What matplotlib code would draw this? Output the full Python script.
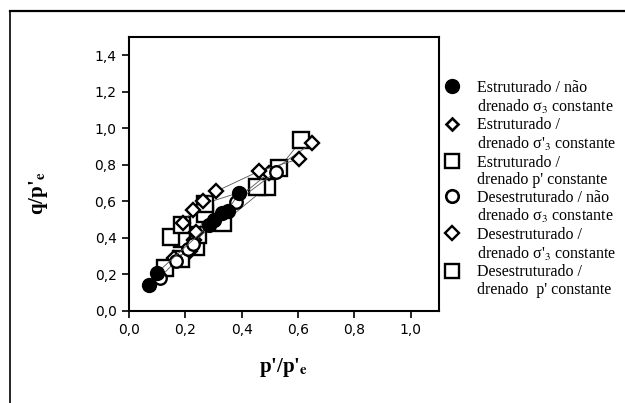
import numpy as np
import matplotlib.pyplot as plt
from matplotlib.lines import Line2D

plt.rcParams['mathtext.fontset'] = 'stix'

# Estruturado / nao drenado sigma3 constante (filled circles)
est_nd_x = [0.07, 0.10, 0.285, 0.30, 0.33, 0.35, 0.39]
est_nd_y = [0.145, 0.21, 0.47, 0.50, 0.535, 0.55, 0.645]

# Estruturado / drenado sigma'3 constante (diamonds)
est_ds_x = [0.19, 0.227, 0.262, 0.309, 0.461, 0.602]
est_ds_y = [0.48, 0.551, 0.603, 0.655, 0.765, 0.832]

# Estruturado / drenado p' constante (squares)
est_dp_x = [0.15, 0.187, 0.268, 0.455, 0.532, 0.612]
est_dp_y = [0.404, 0.472, 0.588, 0.68, 0.781, 0.935]

# Desestruturado / nao drenado sigma3 constante (open circles)
des_nd_x = [0.109, 0.168, 0.209, 0.226, 0.379, 0.52]
des_nd_y = [0.182, 0.276, 0.34, 0.368, 0.597, 0.76]

# Desestruturado / drenado sigma'3 constante (diamonds)
des_ds_x = [0.16, 0.215, 0.232, 0.238, 0.496, 0.649]
des_ds_y = [0.29, 0.331, 0.386, 0.432, 0.755, 0.919]

# Desestruturado / drenado p' constante (squares)
des_dp_x = [0.127, 0.185, 0.187, 0.238, 0.244, 0.27, 0.332, 0.49]
des_dp_y = [0.235, 0.285, 0.395, 0.352, 0.418, 0.533, 0.48, 0.68]

labels = [
    ("Estruturado / não", "drenado σ$_3$ constante"),
    ("Estruturado /", "drenado σ'$_3$ constante"),
    ("Estruturado /", "drenado p' constante"),
    ("Desestruturado / não", "drenado σ$_3$ constante"),
    ("Desestruturado /", "drenado σ'$_3$ constante"),
    ("Desestruturado /", "drenado  p' constante"),
]

fig = plt.figure(figsize=(6.25, 4.03), dpi=100)
ax = fig.add_axes([129/625, 1 - 311/403, 310/625, 274/403])

line_kw = dict(color='#555555', lw=0.6)
series = [
    (des_dp_x, des_dp_y, dict(marker='s', ms=11, mfc='white', mec='black', mew=1.7)),
    (est_dp_x, est_dp_y, dict(marker='s', ms=11, mfc='white', mec='black', mew=1.7)),
    (des_ds_x, des_ds_y, dict(marker='D', ms=7, mfc='white', mec='black', mew=1.7)),
    (est_ds_x, est_ds_y, dict(marker='D', ms=7, mfc='white', mec='black', mew=1.7)),
    (des_nd_x, des_nd_y, dict(marker='o', ms=9, mfc='white', mec='black', mew=1.7)),
    (est_nd_x, est_nd_y, dict(marker='o', ms=10, mfc='black', mec='black', mew=1)),
]
for x, y, kw in series:
    ax.plot(x, y, **line_kw, **kw)

xt = np.arange(0, 1.01, 0.2)
yt = np.arange(0, 1.41, 0.2)
ax.set_xlim(0, 1.1)
ax.set_ylim(0, 1.5)
ax.set_xticks(xt)
ax.set_yticks(yt)
ax.set_xticklabels([f"{v:.1f}".replace('.', ',') for v in xt])
ax.set_yticklabels([f"{v:.1f}".replace('.', ',') for v in yt])
ax.tick_params(direction='out', length=5, width=1.2, labelsize=10, pad=4)
for s in ax.spines.values():
    s.set_linewidth(1.5)

ax.set_xlabel(r"p'/p'$_\mathbf{e}$", family='Liberation Serif', fontweight='bold', fontsize=15)
ax.set_ylabel(r"q/p'$_\mathbf{e}$", family='Liberation Serif', fontweight='bold', fontsize=15)
ax.xaxis.set_label_coords(0.5, -0.165)
ax.yaxis.set_label_coords(-0.255, 0.43)

# legend: one entry per text line, marker on the first line
mk = [
    dict(marker='o', ms=10, mfc='black', mec='black'),
    dict(marker='D', ms=6.5, mfc='white', mec='black', mew=1.9),
    dict(marker='s', ms=9.5, mfc='white', mec='black', mew=1.7),
    dict(marker='o', ms=9, mfc='white', mec='black', mew=1.9),
    dict(marker='D', ms=7, mfc='white', mec='black', mew=1.7),
    dict(marker='s', ms=10, mfc='white', mec='black', mew=1.7),
]
handles, texts = [], []
for (l1, l2), kw in zip(labels, mk):
    handles.append(Line2D([], [], ls='none', **kw))
    texts.append(l1)
    handles.append(Line2D([], [], ls='none'))
    texts.append(l2)
fig.legend(handles, texts, loc='upper left', bbox_to_anchor=(444/625, 1 - 80/403),
           frameon=False, prop={'family': 'Liberation Serif', 'size': 11.5},
           handlelength=1.0, handletextpad=1.06, labelspacing=0.1, borderpad=0,
           borderaxespad=0)

# outer frame (top and left edges)
fig.add_artist(Line2D([10/625, 1], [1 - 11/403, 1 - 11/403], color='black', lw=1.6))
fig.add_artist(Line2D([10/625, 10/625], [0, 1 - 11/403], color='black', lw=1.2))

fig.savefig("out.png", dpi=100)
